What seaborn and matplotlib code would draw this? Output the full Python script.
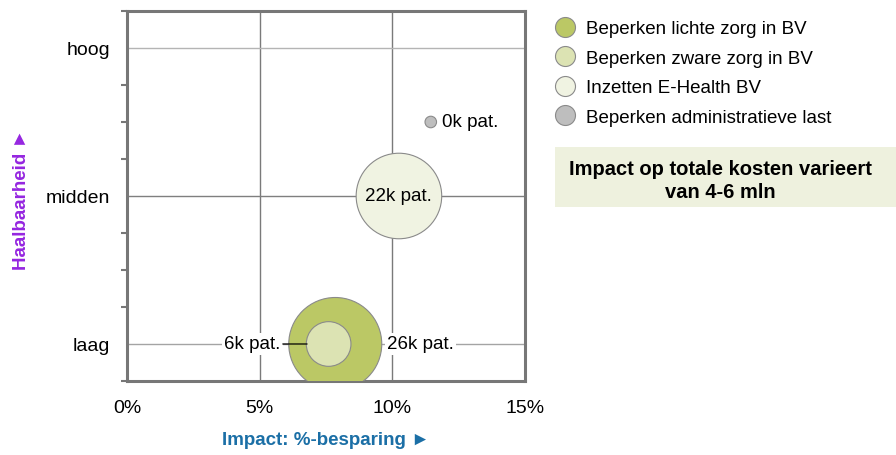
import matplotlib
matplotlib.use("Agg")
import matplotlib.pyplot as plt
import seaborn as sns
import pandas as pd
from matplotlib.lines import Line2D
from matplotlib.ticker import FuncFormatter, MultipleLocator

# Initiatives, their savings impact, feasibility level and patient counts (thousands)
initiatives = ["Beperken lichte zorg in BV", "Beperken zware zorg in BV",
               "Inzetten E-Health BV", "Beperken administratieve last"]
impact_pct = [7.85, 7.6, 10.25, 11.45]
feasibility = [1.0, 1.0, 2.0, 2.5]
patients_k = [26, 6, 22, 0.4]
colors = ["#BBC865", "#DCE3B3", "#F0F3E2", "#BEBEBE"]
level_labels = ["laag", "midden", "hoog"]
level_values = [1, 2, 3]

df = pd.DataFrame({"initiative": initiatives, "impact": impact_pct,
                   "feasibility": feasibility, "patients": patients_k})

sns.set_theme(style="white")
plt.rcParams["font.family"] = ["Liberation Sans", "DejaVu Sans"]
plt.rcParams["text.color"] = "black"

FS = 13.5

fig = plt.figure(figsize=(8.96, 4.56), dpi=100)
ax = fig.add_axes([0.1417, 0.1623, 0.4442, 0.8114])

# bubble area scales linearly with patient count
sns.scatterplot(data=df, x="impact", y="feasibility", hue="initiative",
                palette=dict(zip(initiatives, colors)), size="patients",
                sizes=(0, 4484), size_norm=(0, 26), edgecolor="#8a8a8a",
                linewidth=0.8, legend=False, ax=ax, zorder=3, alpha=1)

ax.set_xlim(0, 15)
ax.set_ylim(0.75, 3.25)
ax.xaxis.set_major_locator(MultipleLocator(5))
ax.xaxis.set_major_formatter(FuncFormatter(lambda v, p: f"{v:.0f}%"))
ax.set_yticks(level_values)
ax.set_yticklabels(level_labels)
ax.yaxis.set_minor_locator(MultipleLocator(0.25))
ax.grid(True, which="major", color="#7a7a7a", linewidth=1)
for gl, c in zip(ax.yaxis.get_gridlines(), ["#a4a4a4", "#7f7f7f", "#b4b4b4"]):
    gl.set_color(c)
ax.set_axisbelow(True)
for s in ax.spines.values():
    s.set_color("#777777")
    s.set_linewidth(2.2)
ax.tick_params(axis="both", which="both", direction="out", color="#777777",
               width=1.5, labelsize=14, labelcolor="black")
ax.tick_params(axis="y", which="major", length=7, pad=5)
ax.tick_params(axis="y", which="minor", length=4, left=True)
ax.tick_params(axis="x", which="major", length=6, pad=7)
ax.set_xlabel("")
ax.set_ylabel("")

# data labels
box = dict(facecolor="white", edgecolor="none", pad=1.5)
lbl = [f"{v:.0f}k pat." for v in patients_k]
ax.annotate(lbl[0], (impact_pct[0], feasibility[0]), xytext=(37, 0),
            textcoords="offset points", ha="left", va="center", fontsize=FS,
            bbox=box, zorder=4)
ax.annotate(lbl[1], (impact_pct[1], feasibility[1]), xytext=(-34.5, 0),
            textcoords="offset points", ha="right", va="center", fontsize=FS,
            bbox=box, zorder=4)
ax.annotate("", xy=(impact_pct[1], feasibility[1]), xytext=(-33, 0),
            textcoords="offset points",
            arrowprops=dict(arrowstyle="-", color="black", lw=0.9,
                            shrinkA=0, shrinkB=15.5), zorder=5)
ax.annotate(lbl[2], (impact_pct[2], feasibility[2]), ha="center", va="center",
            fontsize=FS, zorder=5)
ax.annotate(lbl[3], (impact_pct[3], feasibility[3]), xytext=(8, 0),
            textcoords="offset points", ha="left", va="center", fontsize=FS,
            zorder=5)

# axis titles
fig.text(326 / 896, 1 - 441 / 456, "Impact: %-besparing ►", color="#1B6FA6",
         fontsize=FS, fontweight="bold", ha="center", va="center")
fig.text(21 / 896, 1 - 200 / 456, "Haalbaarheid ►", color="#9526E0", fontsize=FS,
         fontweight="bold", ha="center", va="center", rotation=90)

# legend
handles = [Line2D([], [], marker="o", linestyle="none", markersize=14.4,
                  markerfacecolor=c, markeredgecolor="#8a8a8a",
                  markeredgewidth=0.8) for c in colors]
fig.legend(handles, initiatives, loc="upper left",
           bbox_to_anchor=(556 / 896, 1 - 21 / 456), frameon=False, fontsize=FS,
           labelspacing=0.66, handletextpad=0.6, handlelength=1.0,
           borderpad=0, borderaxespad=0)

# note box
fig.patches.append(plt.Rectangle((555 / 896, 1 - 208 / 456), 341 / 896,
                                 60 / 456, transform=fig.transFigure,
                                 facecolor="#EEF1DE", edgecolor="none"))
fig.text(720 / 896, 1 - 181 / 456, "Impact op totale kosten varieert\nvan 4-6 mln",
         ha="center", va="center", fontsize=14.5, fontweight="bold",
         linespacing=1.3)

fig.savefig("out.png", dpi=100)
